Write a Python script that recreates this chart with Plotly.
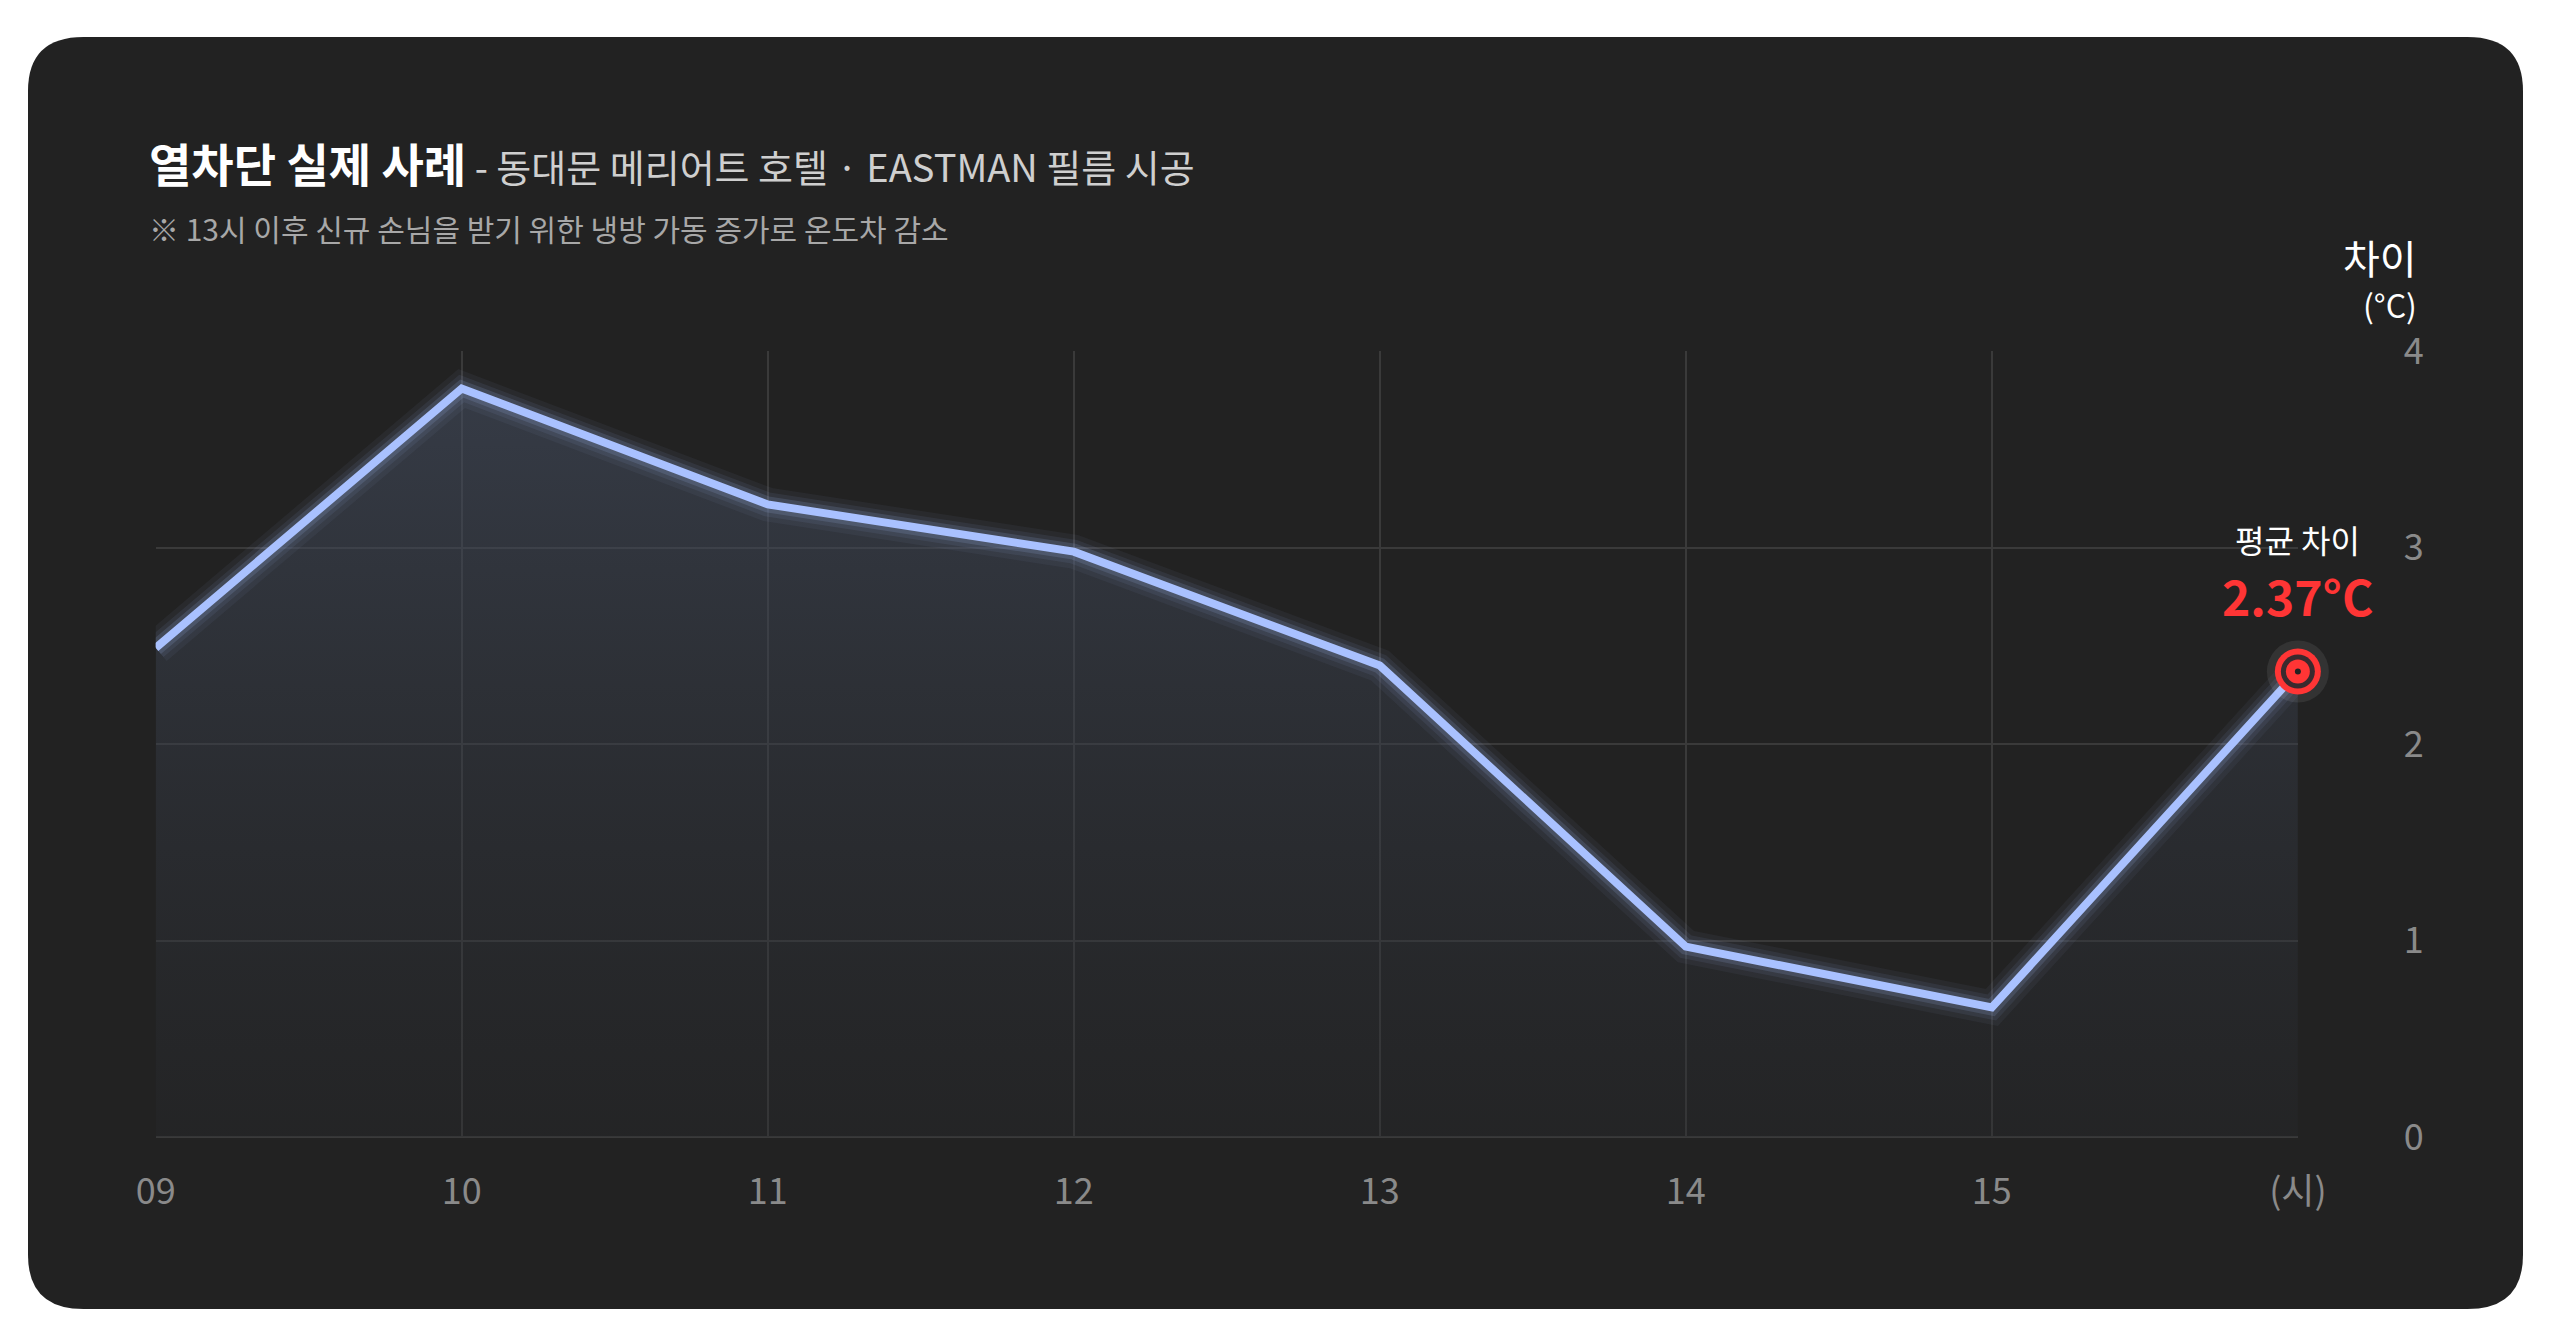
import plotly.graph_objects as go

hours = ["09", "10", "11", "12", "13", "14", "15", "(시)"]
diff = [2.49, 3.81, 3.22, 2.98, 2.40, 0.97, 0.66, 2.37]
y_ticks = [0, 1, 2, 3, 4]
avg_label = "2.37°C"

xs = list(range(len(hours)))
FONT = "Noto Sans CJK KR"
W, H = 2560, 1340

fig = go.Figure()

# area under the line
fig.add_trace(go.Scatter(
    x=xs, y=diff, mode="lines", line=dict(width=0), fill="tozeroy",
    fillgradient=dict(type="vertical",
                      colorscale=[[0, "rgba(40,42,46,0.3)"], [1, "rgba(70,80,100,0.55)"]]),
    hoverinfo="skip"))

# glow layers
for w, a in [(34, 0.05), (24, 0.08), (16, 0.14)]:
    fig.add_trace(go.Scatter(x=xs, y=diff, mode="lines",
                             line=dict(color=f"rgba(170,195,255,{a})", width=w),
                             hoverinfo="skip"))
fig.add_trace(go.Scatter(x=xs, y=diff, mode="lines",
                         line=dict(color="#a9c1ff", width=8)))

# average marker
last_x, last_y = xs[-1], diff[-1]
for size, col in [(62, "rgba(255,255,255,0.08)"), (46, "#ff3535"), (34, "#3a2a2e"),
                  (24, "#ff3535"), (6, "#222222")]:
    fig.add_trace(go.Scatter(x=[last_x], y=[last_y], mode="markers", cliponaxis=False,
                             marker=dict(size=size, color=col, line=dict(width=0))))

r = 57
rx, ry = r / W, r / H
card = (f"M {rx} 0 L {1-rx} 0 Q 1 0 1 {ry} L 1 {1-ry} Q 1 1 {1-rx} 1 "
        f"L {rx} 1 Q 0 1 0 {1-ry} L 0 {ry} Q 0 0 {rx} 0 Z")

fig.update_layout(
    margin=dict(l=0, r=0, t=0, b=0),
    paper_bgcolor="white", plot_bgcolor="rgba(0,0,0,0)",
    showlegend=False, font=dict(family=FONT),
    shapes=[dict(type="path", path=card, xref="paper", yref="paper",
                 fillcolor="#222222", line=dict(width=0), layer="below")],
    xaxis=dict(domain=[131 / W, 2329 / W], range=[0, 7], tickvals=xs, ticktext=hours,
               showgrid=True, gridcolor="#3a3a3a", gridwidth=2, zeroline=False,
               showline=False, ticks="", ticklabelstandoff=30,
               tickfont=dict(size=36, color="#8a8a8a")),
    yaxis=dict(domain=[1 - 1159 / H, 1 - 331 / H], range=[0, 4], tickvals=y_ticks,
               side="right", showgrid=True, gridcolor="#3a3a3a", gridwidth=2,
               zeroline=True, zerolinecolor="#3a3a3a", zerolinewidth=2,
               ticks="", ticklabelstandoff=105,
               tickfont=dict(size=36, color="#8a8a8a")),
    annotations=[
        dict(x=122 / W, y=1 - 132 / H, xref="paper", yref="paper", xanchor="left",
             yanchor="middle", showarrow=False,
             text="<b>열차단 실제 사례</b><span style='font-size:38px;color:#cfcfcf'> - 동대문 메리어트 호텔 · EASTMAN 필름 시공</span>",
             font=dict(size=46, color="white")),
        dict(x=122 / W, y=1 - 201 / H, xref="paper", yref="paper", xanchor="left",
             yanchor="middle", showarrow=False,
             text="※ 13시 이후 신규 손님을 받기 위한 냉방 가동 증가로 온도차 감소",
             font=dict(size=30, color="#a8a8a8")),
        dict(x=2453 / W, y=1 - 199 / H, xref="paper", yref="paper", showarrow=False,
             text="차이", font=dict(size=40, color="white")),
        dict(x=2453 / W, y=1 - 255 / H, xref="paper", yref="paper", showarrow=False,
             text="(°C)", font=dict(size=32, color="white")),
        dict(x=last_x, y=last_y, xref="x", yref="y", showarrow=False, yshift=132,
             text="평균 차이", font=dict(size=32, color="white")),
        dict(x=last_x, y=last_y, xref="x", yref="y", showarrow=False, yshift=76,
             text=f"<b>{avg_label}</b>", font=dict(size=48, color="#ff3535")),
    ],
)

fig.write_html("out.html", config={"responsive": True})
